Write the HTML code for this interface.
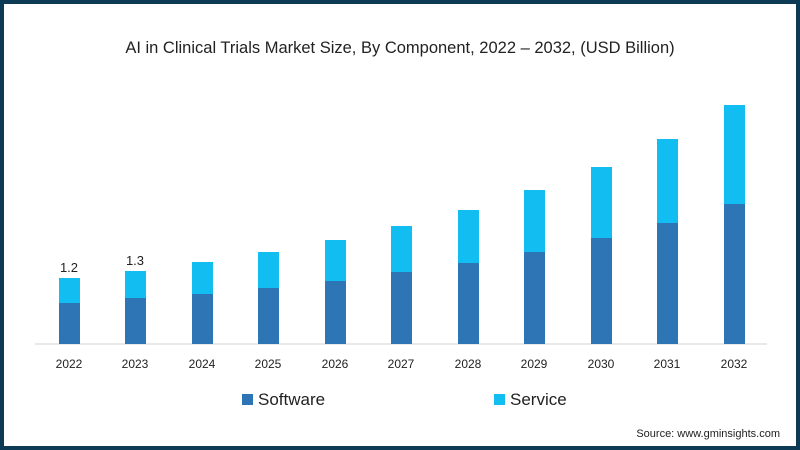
<!DOCTYPE html>
<html><head><style>
body{margin:0;background:#fff}
.f{position:absolute;left:0;top:0;width:800px;height:450px;box-sizing:border-box;border:4px solid #0d3b55;border-bottom-width:4px;background:#fff;font-family:"Liberation Sans",sans-serif;overflow:hidden}
</style></head><body>
<div class="f"></div>
<svg width="800" height="450" style="position:absolute;left:0;top:0" font-family="Liberation Sans, sans-serif">
<text x="400" y="53" text-anchor="middle" font-size="16.5" fill="#222">AI in Clinical Trials Market Size, By Component, 2022 – 2032, (USD Billion)</text>
<line x1="35" y1="344" x2="767" y2="344" stroke="#e2e2e2" stroke-width="1.5"/>
<g id="bars"></g>
<text x="69" y="272" text-anchor="middle" font-size="13" fill="#222">1.2</text>
<text x="135" y="265" text-anchor="middle" font-size="13" fill="#222">1.3</text>
<g font-size="12" fill="#222" text-anchor="middle">
<text x="69" y="368">2022</text><text x="135" y="368">2023</text><text x="202" y="368">2024</text><text x="268" y="368">2025</text><text x="335" y="368">2026</text><text x="401" y="368">2027</text><text x="468" y="368">2028</text><text x="534" y="368">2029</text><text x="601" y="368">2030</text><text x="667" y="368">2031</text><text x="734" y="368">2032</text>
</g>
<rect x="242" y="394" width="11" height="11" fill="#2e75b6"/>
<text x="258" y="405" font-size="17" fill="#222">Software</text>
<rect x="494" y="394" width="11" height="11" fill="#12bdf1"/>
<text x="510" y="405" font-size="17" fill="#222">Service</text>
<text x="780" y="437" text-anchor="end" font-size="11" fill="#222">Source: www.gminsights.com</text>
<g>
<rect x="59" y="278" width="21" height="25" fill="#12bdf1"/><rect x="59" y="303" width="21" height="41" fill="#2e75b6"/>
<rect x="125" y="271" width="21" height="27" fill="#12bdf1"/><rect x="125" y="298" width="21" height="46" fill="#2e75b6"/>
<rect x="192" y="262" width="21" height="32" fill="#12bdf1"/><rect x="192" y="294" width="21" height="50" fill="#2e75b6"/>
<rect x="258" y="252" width="21" height="36" fill="#12bdf1"/><rect x="258" y="288" width="21" height="56" fill="#2e75b6"/>
<rect x="325" y="240" width="21" height="41" fill="#12bdf1"/><rect x="325" y="281" width="21" height="63" fill="#2e75b6"/>
<rect x="391" y="226" width="21" height="46" fill="#12bdf1"/><rect x="391" y="272" width="21" height="72" fill="#2e75b6"/>
<rect x="458" y="210" width="21" height="53" fill="#12bdf1"/><rect x="458" y="263" width="21" height="81" fill="#2e75b6"/>
<rect x="524" y="190" width="21" height="62" fill="#12bdf1"/><rect x="524" y="252" width="21" height="92" fill="#2e75b6"/>
<rect x="591" y="167" width="21" height="71" fill="#12bdf1"/><rect x="591" y="238" width="21" height="106" fill="#2e75b6"/>
<rect x="657" y="139" width="21" height="84" fill="#12bdf1"/><rect x="657" y="223" width="21" height="121" fill="#2e75b6"/>
<rect x="724" y="105" width="21" height="99" fill="#12bdf1"/><rect x="724" y="204" width="21" height="140" fill="#2e75b6"/>
</g>
</svg>
</body></html>
